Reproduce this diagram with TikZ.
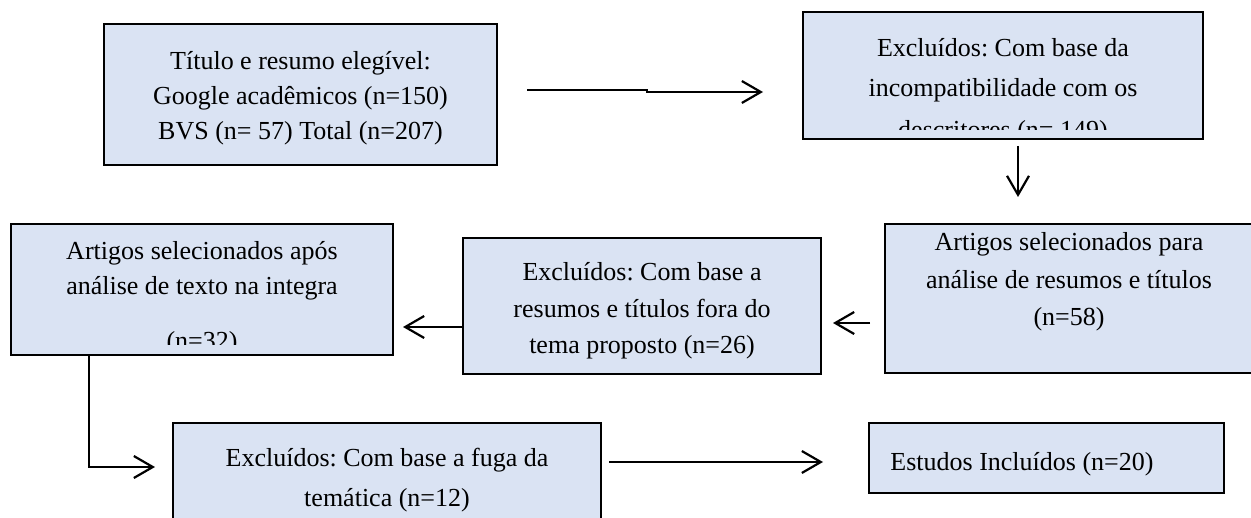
\documentclass[tikz,border=0pt]{standalone}
\usepackage{fontspec}
\setmainfont{Liberation Serif}
\usetikzlibrary{arrows.meta,calc}
\definecolor{boxfill}{RGB}{218,227,243}
\tikzset{
  flowbox/.style={draw=black, fill=boxfill, line width=1.1pt, inner sep=0pt},
  txt/.style={inner sep=0pt, align=center, font=\fontsize{13}{#1}\selectfont\frenchspacing},
  arr/.style={line width=1.1pt, -{Straight Barb[length=9.5pt,width=11pt]}}
}
\begin{document}
\begin{tikzpicture}[x=0.5pt,y=-0.5pt]
\useasboundingbox (0,0) rectangle (1251,518);
% boxes
\node[flowbox, minimum width=196.5pt, minimum height=70.5pt] (b1) at (300.5,94.5) {};
\node[flowbox, minimum width=200pt, minimum height=63.5pt] (b2) at (1003,75.5) {};
\node[flowbox, minimum width=184pt, minimum height=74.5pt] (b3) at (1069,298.5) {};
\node[flowbox, minimum width=179pt, minimum height=68pt] (b4) at (642,306) {};
\node[flowbox, minimum width=191pt, minimum height=65.5pt] (b5) at (202,289.5) {};
\node[flowbox, minimum width=214pt, minimum height=58.5pt] (b6) at (387,481.5) {};
\node[flowbox, minimum width=177.5pt, minimum height=35pt] (b7) at (1046.5,458) {};
% texts
\node[txt=17.5pt] (t1) at (300.5,98) {Título e resumo elegível:\\Google acadêmicos (n=150)\\BVS (n= 57) Total (n=207)};
\begin{scope}
\clip (804,13) rectangle (1202,130);
\node[txt=19.75pt] (t2) at (1003,91.5) {Excluídos: Com base da\\incompatibilidade com os\\[1.5pt]descritores (n= 149)};
\end{scope}
\node[txt=18.75pt] (t3) at (1069,282) {Artigos selecionados para\\análise de resumos e títulos\\(n=58)};
\node[txt=18.25pt] (t4) at (642,311) {Excluídos: Com base a\\resumos e títulos fora do\\tema proposto (n=26)};
\begin{scope}
\clip (12,225) rectangle (392,344);
\node[txt=17.5pt] (t5) at (202,298) {Artigos selecionados após\\análise de texto na integra\\[10pt](n=32)};
\end{scope}
\node[txt=20pt] (t6) at (387,480.5) {Excluídos: Com base a fuga da\\temática (n=12)};
\node[txt=17.5pt, anchor=west] (t7) at (890,464) {Estudos Incluídos (n=20)};
% connector ends
\coordinate (a1s) at (527,90);
\coordinate (a1m) at (647,90);
\coordinate (a1e) at (763,92);
\coordinate (a2s) at (1018,146);
\coordinate (a2e) at (1018,197);
\coordinate (a3s) at (870,323);
\coordinate (a3e) at (833,323);
\coordinate (a4e) at (403,327);
\coordinate (a5c) at (89,467);
\coordinate (a5e) at (155,467);
\coordinate (a6s) at (609,462);
\coordinate (a6e) at (823,462);
% connectors
\draw[arr] (a1s) -- (a1m) -- (a1m |- a1e) -- (a1e);
\draw[arr] (a2s) -- (a2e);
\draw[arr] (a3s) -- (a3e);
\draw[arr] (b4.west |- a4e) -- (a4e);
\draw[arr] (b5.south -| a5c) -- (a5c) -- (a5e);
\draw[arr] (a6s) -- (a6e);
\end{tikzpicture}
\end{document}
